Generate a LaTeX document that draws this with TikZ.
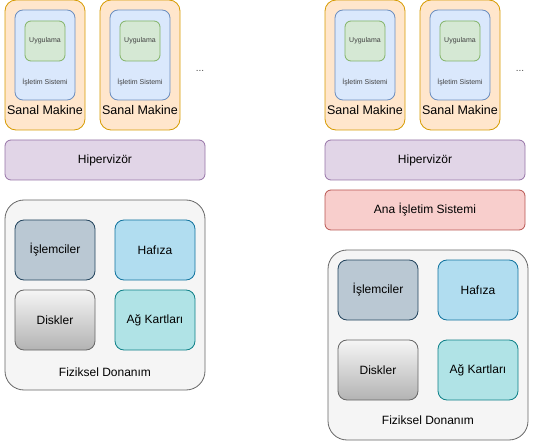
\documentclass[tikz,border=0pt]{standalone}
\usepackage{fontspec}
\setmainfont{Liberation Sans}
\usepackage{xcolor}

\definecolor{vmfill}{HTML}{FFE6CC}  \definecolor{vmline}{HTML}{D79B00}
\definecolor{osfill}{HTML}{DAE8FC}  \definecolor{osline}{HTML}{6C8EBF}
\definecolor{appfill}{HTML}{D5E8D4} \definecolor{appline}{HTML}{82B366}
\definecolor{hvfill}{HTML}{E1D5E7}  \definecolor{hvline}{HTML}{9673A6}
\definecolor{hostfill}{HTML}{F8CECC} \definecolor{hostline}{HTML}{B85450}
\definecolor{hwfill}{HTML}{F5F5F5}  \definecolor{hwline}{HTML}{666666}
\definecolor{cpufill}{HTML}{BAC8D3} \definecolor{cpuline}{HTML}{23445D}
\definecolor{memfill}{HTML}{B1DDF0} \definecolor{memline}{HTML}{10739E}
\definecolor{nicfill}{HTML}{B0E3E6} \definecolor{nicline}{HTML}{0E8088}
\definecolor{diskdark}{HTML}{B3B3B3}

\tikzset{
  box/.style={draw, line width=0.8pt, inner sep=0pt, rectangle},
  vmbox/.style={box, draw=vmline, fill=vmfill, rounded corners=11pt,
    minimum width=80pt, minimum height=130pt},
  osbox/.style={box, draw=osline, fill=osfill, rounded corners=8pt,
    minimum width=60pt, minimum height=90pt},
  appbox/.style={box, draw=appline, fill=appfill, rounded corners=6pt,
    minimum width=40pt, minimum height=40pt, text=black!75,
    font=\fontsize{7}{8}\selectfont},
  layer/.style={box, rounded corners=6pt, minimum width=200pt,
    minimum height=40pt, font=\fontsize{12}{14}\selectfont},
  hwbox/.style={box, draw=hwline, fill=hwfill, rounded corners=19pt,
    minimum width=200pt, minimum height=190pt},
  part/.style={box, rounded corners=9pt, minimum width=80pt,
    minimum height=60pt, font=\fontsize{12}{14}\selectfont},
  smalltxt/.style={text=black!75, font=\fontsize{7}{8}\selectfont},
  bigtxt/.style={font=\fontsize{12.5}{14}\selectfont},
}

\begin{document}
\begin{tikzpicture}[x=1pt, y=-1pt]
  \useasboundingbox (0,0) rectangle (536,441);
  % virtual machines
  \foreach \n/\x in {a/5, b/100, c/325, d/420} {
    \node[vmbox] (vm\n) at (\x+40,65) {};
    \node[osbox] (os\n) at (\x+40,55) {};
    \node[appbox] (app\n) at (\x+40,41) {Uygulama};
    \node[smalltxt] (ostxt\n) at (\x+40,82) {İşletim Sistemi};
    \node[bigtxt] (vmtxt\n) at (\x+40,110) {Sanal Makine};
  }
  \node[text=black!70, font=\fontsize{10}{12}\selectfont] (dotsl) at (200,71) {...};
  \node[text=black!70, font=\fontsize{10}{12}\selectfont] (dotsr) at (520,71) {...};
  % hypervisors and host os
  \node[layer, draw=hvline, fill=hvfill] (hvl) at (105,160) {Hipervizör};
  \node[layer, draw=hvline, fill=hvfill] (hvr) at (425,160) {Hipervizör};
  \node[layer, draw=hostline, fill=hostfill] (host) at (425,210) {Ana İşletim Sistemi};
  % physical hardware, left
  \node[hwbox] (hwl) at (105,295) {};
  \node[part, draw=cpuline, fill=cpufill] (cpul) at (55,250) {İşlemciler};
  \node[part, draw=memline, fill=memfill] (meml) at (155,250) {Hafıza};
  \node[part, draw=hwline, top color=hwfill, bottom color=diskdark] (diskl) at (55,320) {Diskler};
  \node[part, draw=nicline, fill=nicfill] (nicl) at (155,320) {Ağ Kartları};
  \node[font=\fontsize{12}{14}\selectfont] (hwtxtl) at (105,372) {Fiziksel Donanım};
  % physical hardware, right
  \node[hwbox] (hwr) at (428,345) {};
  \node[part, draw=cpuline, fill=cpufill] (cpur) at (378,290) {İşlemciler};
  \node[part, draw=memline, fill=memfill] (memr) at (478,290) {Hafıza};
  \node[part, draw=hwline, top color=hwfill, bottom color=diskdark] (diskr) at (378,370) {Diskler};
  \node[part, draw=nicline, fill=nicfill] (nicr) at (478,370) {Ağ Kartları};
  \node[font=\fontsize{12}{14}\selectfont] (hwtxtr) at (428,420) {Fiziksel Donanım};
\end{tikzpicture}
\end{document}
